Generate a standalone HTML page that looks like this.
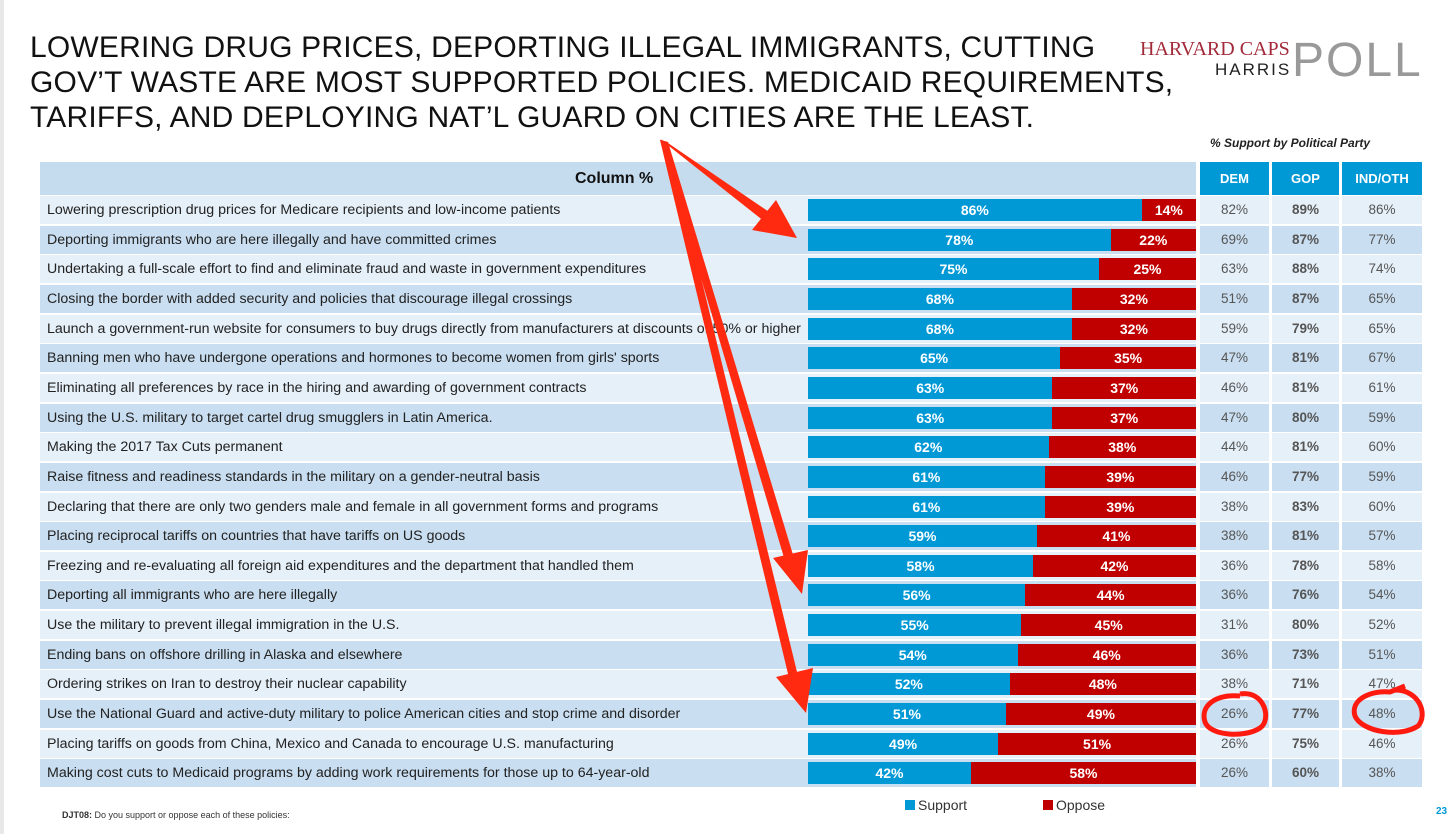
<!DOCTYPE html>
<html><head><meta charset="utf-8">
<style>
body{margin:0;width:1456px;height:834px;background:#fff;font-family:"Liberation Sans",sans-serif;position:relative;overflow:hidden}
#title{position:absolute;left:30px;top:30px;font-size:30px;line-height:35px;color:#111;letter-spacing:0.2px;white-space:nowrap}
.abs{position:absolute}
.row{position:absolute;left:40px;width:1382px;height:28px}
.lbl{position:absolute;left:7px;top:0;line-height:28px;font-size:14.2px;color:#222;white-space:nowrap}
.bar{position:absolute;top:3px;height:22px;color:#fff;font-weight:bold;font-size:14px;line-height:22px;text-align:center}
.pc{position:absolute;top:0;height:28px;line-height:28px;text-align:center;font-size:13.5px;color:#555}
.ph{position:absolute;top:162px;height:33px;line-height:33px;background:#0099d6;color:#fff;font-weight:bold;font-size:13px;text-align:center}
</style></head><body>
<div class="abs" style="left:0;top:0;width:4px;height:834px;background:#e8e8e8"></div>
<div id="title">LOWERING DRUG PRICES, DEPORTING ILLEGAL IMMIGRANTS, CUTTING<br>GOV’T WASTE ARE MOST SUPPORTED POLICIES. MEDICAID REQUIREMENTS,<br>TARIFFS, AND DEPLOYING NAT’L GUARD ON CITIES ARE THE LEAST.</div>
<div class="abs" style="left:1140px;top:38px;width:300px;height:50px">
<div class="abs" style="left:0;top:0;font-family:'Liberation Serif',serif;color:#a32a3a;font-size:20px">HARVARD CAPS</div>
<div class="abs" style="left:75px;top:22px;color:#222;font-size:17px;letter-spacing:2px">HARRIS</div>
<div class="abs" style="left:152px;top:-2px;color:#999;font-size:48px;line-height:50px;letter-spacing:2px">POLL</div>
</div>
<div class="abs" style="left:1210px;top:136px;font-size:12px;font-weight:bold;font-style:italic;color:#222">% Support by Political Party</div>
<div class="abs" style="left:40px;top:162px;width:1156px;height:33px;background:#c5dcef"></div>
<div class="abs" style="left:575px;top:162px;line-height:33px;font-weight:bold;font-size:16px;color:#111">Column %</div>
<div class="ph" style="left:1200px;width:69px">DEM</div>
<div class="ph" style="left:1272px;width:67px">GOP</div>
<div class="ph" style="left:1342px;width:80px">IND/OTH</div>
<div id="rows"></div>
<div class="abs" style="left:905px;top:797px;font-size:14px;color:#333"><span style="display:inline-block;width:10px;height:10px;background:#0099d6;margin-right:3px"></span>Support</div>
<div class="abs" style="left:1043px;top:797px;font-size:14px;color:#333"><span style="display:inline-block;width:10px;height:10px;background:#c00000;margin-right:3px"></span>Oppose</div>
<div class="abs" style="left:62px;top:810px;font-size:9px;color:#333"><b>DJT08:</b> Do you support or oppose each of these policies:</div>
<div class="abs" style="left:1436px;top:806px;font-size:10px;font-weight:bold;color:#0099d6">23</div>
<svg class="abs" style="left:0;top:0" width="1456" height="834">
<g fill="#ff2a10" stroke="#ff2a10">
<polygon points="660,139 668,143 772,214 765,222" stroke="none"/>
<polygon points="797,238 752,230 776,200" stroke="none"/>
<polygon points="660,140 668,142 794,558 785,561" stroke="none"/>
<polygon points="802,594 773,558 808,550" stroke="none"/>
<polygon points="660,140 668,142 798,676 789,678" stroke="none"/>
<polygon points="806,713 776,677 813,668" stroke="none"/>
</g>
<g fill="none" stroke="#ff1a10" stroke-width="5">
<path d="M1240,694 C1265,690 1272,720 1260,728 C1245,738 1210,736 1205,722 C1200,706 1215,694 1240,696"/>
<path d="M1395,690 C1420,690 1428,715 1418,726 C1400,738 1362,732 1355,716 C1350,700 1370,690 1390,692 L1405,686"/>
</g>
</svg>
<script>
const labels=["Lowering prescription drug prices for Medicare recipients and low-income patients","Deporting immigrants who are here illegally and have committed crimes","Undertaking a full-scale effort to find and eliminate fraud and waste in government expenditures","Closing the border with added security and policies that discourage illegal crossings","Launch a government-run website for consumers to buy drugs directly from manufacturers at discounts of 50% or higher","Banning men who have undergone operations and hormones to become women from girls' sports","Eliminating all preferences by race in the hiring and awarding of government contracts","Using the U.S. military to target cartel drug smugglers in Latin America.","Making the 2017 Tax Cuts permanent","Raise fitness and readiness standards in the military on a gender-neutral basis","Declaring that there are only two genders male and female in all government forms and programs","Placing reciprocal tariffs on countries that have tariffs on US goods","Freezing and re-evaluating all foreign aid expenditures and the department that handled them","Deporting all immigrants who are here illegally","Use the military to prevent illegal immigration in the U.S.","Ending bans on offshore drilling in Alaska and elsewhere","Ordering strikes on Iran to destroy their nuclear capability","Use the National Guard and active-duty military to police American cities and stop crime and disorder","Placing tariffs on goods from China, Mexico and Canada to encourage U.S. manufacturing","Making cost cuts to Medicaid programs by adding work requirements for those up to 64-year-old"];
const support=[86,78,75,68,68,65,63,63,62,61,61,59,58,56,55,54,52,51,49,42];
const oppose=[14,22,25,32,32,35,37,37,38,39,39,41,42,44,45,46,48,49,51,58];
const dem=[82,69,63,51,59,47,46,47,44,46,38,38,36,36,31,36,38,26,26,26];
const gop=[89,87,88,87,79,81,81,80,81,77,83,81,78,76,80,73,71,77,75,60];
const ind=[86,77,74,65,65,67,61,59,60,59,60,57,58,54,52,51,47,48,46,38];
const X0=808,BW=388,Y0=196,RH=29.65;
const xs=v=>v/100*BW;
const root=document.getElementById('rows');
labels.forEach((l,i)=>{
 const r=document.createElement('div');
 
 
 r.className='row';r.style.top=(Y0+i*RH)+'px';
 const bg=i%2?'#c9def0':'#e6f0f9';
 r.innerHTML='<div style="position:absolute;left:0;top:0;width:1156px;height:28px;background:'+bg+'"></div>';
 const lb=document.createElement('div');lb.className='lbl';lb.textContent=l;
 
 
 r.appendChild(lb);
 const s=document.createElement('div');s.className='bar';
 
 
 s.style.left=(X0-40)+'px';s.style.width=xs(support[i])+'px';s.style.background='#0099d6';s.textContent=support[i]+'%';
 r.appendChild(s);
 const o=document.createElement('div');o.className='bar';
 
 
 o.style.left=(X0-40+xs(support[i]))+'px';o.style.width=xs(oppose[i])+'px';o.style.background='#c00000';o.textContent=oppose[i]+'%';
 r.appendChild(o);
 [[dem,1200,69,'dem'],[gop,1272,67,'gop'],[ind,1342,80,'ind']].forEach(([a,x,w,n])=>{
  const c=document.createElement('div');c.className='pc';
  
  
  c.style.left=(x-40)+'px';c.style.width=w+'px';c.style.background=bg;c.textContent=a[i]+'%';
  if(n==='gop')c.style.fontWeight='bold';
  r.appendChild(c);
 });
 root.appendChild(r);
});
</script>
</body></html>
